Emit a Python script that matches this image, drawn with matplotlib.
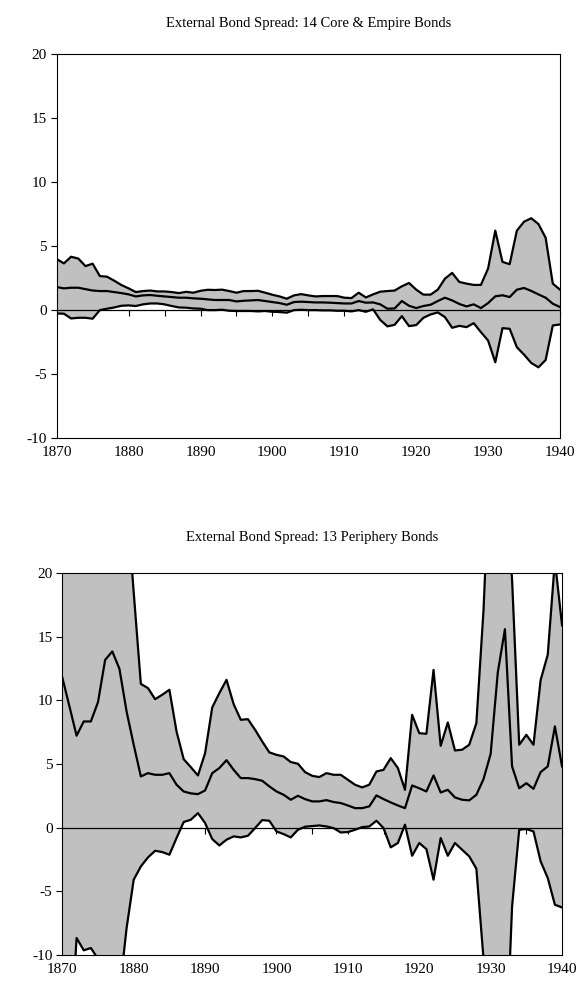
import matplotlib
matplotlib.use("Agg")
import matplotlib.pyplot as plt

years = list(range(1870, 1941))

# 14 core & empire bonds: band top, middle line, band bottom
core_hi = [3.96, 3.62, 4.14, 4.0, 3.41, 3.6, 2.63, 2.58, 2.27, 1.93,
           1.67, 1.38, 1.46, 1.5, 1.43, 1.43, 1.38, 1.3, 1.4, 1.33,
           1.48, 1.56, 1.54, 1.57, 1.46, 1.33, 1.46, 1.46, 1.48, 1.33,
           1.17, 1.04, 0.86, 1.12, 1.22, 1.12, 1.04, 1.07, 1.07, 1.07,
           0.94, 0.91, 1.33, 0.96, 1.2, 1.41, 1.46, 1.5, 1.83, 2.09,
           1.57, 1.18, 1.18, 1.57, 2.43, 2.88, 2.17, 2.04, 1.94, 1.94,
           3.22, 6.18, 3.74, 3.56, 6.18, 6.88, 7.15, 6.7, 5.63, 2.04,
           1.57]
core_mid = [1.77, 1.67, 1.72, 1.72, 1.61, 1.5, 1.46, 1.46, 1.38, 1.3,
            1.2, 1.04, 1.12, 1.15, 1.09, 1.04, 0.99, 0.94, 0.94, 0.89,
            0.86, 0.81, 0.76, 0.76, 0.76, 0.65, 0.7, 0.73, 0.76, 0.68,
            0.6, 0.52, 0.39, 0.6, 0.63, 0.6, 0.57, 0.57, 0.55, 0.52,
            0.49, 0.49, 0.68, 0.55, 0.57, 0.42, 0.08, 0.1, 0.68, 0.31,
            0.13, 0.29, 0.39, 0.68, 0.94, 0.73, 0.45, 0.26, 0.42, 0.13,
            0.52, 1.05, 1.13, 0.99, 1.57, 1.7, 1.47, 1.2, 0.94, 0.47,
            0.21]
core_lo = [-0.29, -0.31, -0.68, -0.63, -0.63, -0.7, -0.03, 0.08, 0.18, 0.31,
           0.34, 0.29, 0.42, 0.49, 0.49, 0.42, 0.29, 0.18, 0.16, 0.1,
           0.08, -0.03, -0.03, 0.0, -0.08, -0.1, -0.1, -0.1, -0.13, -0.1,
           -0.16, -0.18, -0.23, -0.03, 0.0, -0.03, -0.03, -0.05, -0.05, -0.08,
           -0.08, -0.13, -0.03, -0.16, 0.03, -0.8, -1.3, -1.18, -0.5, -1.28,
           -1.2, -0.63, -0.37, -0.21, -0.58, -1.41, -1.26, -1.36, -1.05, -1.75,
           -2.41, -4.11, -1.44, -1.49, -2.93, -3.51, -4.16, -4.5, -3.93, -1.23,
           -1.15]

# 13 periphery bonds
peri_hi = [32, 30, 28, 30, 29, 31, 34, 35, 32, 26,
           18.5, 11.3, 10.97, 10.1, 10.45, 10.84, 7.57, 5.39, 4.76, 4.11,
           5.86, 9.45, 10.58, 11.62, 9.71, 8.48, 8.53, 7.7, 6.78, 5.92,
           5.73, 5.6, 5.16, 5.03, 4.37, 4.08, 3.98, 4.29, 4.16, 4.16,
           3.77, 3.38, 3.17, 3.38, 4.42, 4.55, 5.47, 4.7, 2.98, 8.87,
           7.43, 7.38, 12.4, 6.44, 8.27, 6.07, 6.13, 6.52, 8.22, 17.1,
           30, 35, 28, 19.5, 6.52, 7.3, 6.52, 11.6, 13.6, 21,
           15.9]
peri_mid = [11.8, 9.53, 7.23, 8.35, 8.35, 9.87, 13.19, 13.85, 12.49, 9.14,
            6.52, 4.03, 4.29, 4.16, 4.16, 4.29, 3.38, 2.85, 2.7, 2.64,
            2.93, 4.29, 4.69, 5.31, 4.55, 3.9, 3.9, 3.82, 3.69, 3.25,
            2.85, 2.59, 2.2, 2.51, 2.25, 2.07, 2.07, 2.17, 2.02, 1.94,
            1.75, 1.54, 1.54, 1.68, 2.54, 2.25, 1.99, 1.75, 1.54, 3.32,
            3.1, 2.85, 4.11, 2.77, 2.98, 2.38, 2.2, 2.15, 2.59, 3.82,
            5.8, 12.2, 15.6, 4.82, 3.1, 3.5, 3.06, 4.37, 4.82, 7.96,
            4.82]
peri_lo = [-16, -18, -8.66, -9.63, -9.45, -10.3, -14, -15, -13, -7.9,
           -4.08, -3.04, -2.33, -1.81, -1.91, -2.12, -0.81, 0.45, 0.63, 1.15,
           0.37, -0.89, -1.39, -0.94, -0.68, -0.76, -0.63, -0.03, 0.6, 0.55,
           -0.29, -0.5, -0.76, -0.16, 0.08, 0.13, 0.18, 0.1, -0.03, -0.37,
           -0.34, -0.16, 0.05, 0.1, 0.55, -0.03, -1.54, -1.2, 0.24, -2.2,
           -1.2, -1.68, -4.08, -0.81, -2.2, -1.2, -1.73, -2.25, -3.22, -10.3,
           -20, -25, -20, -6.2, -0.16, -0.1, -0.29, -2.64, -3.95, -6.05,
           -6.26]

plt.rcParams['font.family'] = ['Liberation Serif', 'DejaVu Serif']
plt.rcParams['axes.unicode_minus'] = False


def draw_panel(ax, hi, mid, lo, title, pad):
    ax.fill_between(years, lo, hi, color='#c0c0c0', linewidth=0, zorder=1)
    ax.axhline(0, color='black', linewidth=0.9, zorder=2)
    for s in (hi, mid, lo):
        ax.plot(years, s, color='black', linewidth=1.6, zorder=3)

    ax.set_xlim(1870, 1940)
    ax.set_ylim(-10, 20)
    ax.set_yticks(range(-10, 21, 5))
    ax.set_xticks(range(1870, 1941, 10))
    ax.tick_params(axis='x', length=0, pad=6, labelsize=11)
    ax.tick_params(axis='y', direction='out', length=4, width=0.8, pad=3, labelsize=11)
    for sp in ax.spines.values():
        sp.set_linewidth(0.8)

    # small ticks hang from the zero line, every 5 years
    zero_axis = ax.secondary_xaxis(0, transform=ax.transData)
    zero_axis.set_xticks(range(1870, 1941, 5))
    zero_axis.set_xticklabels([])
    zero_axis.tick_params(direction='out', length=4, width=0.8)
    zero_axis.spines['bottom'].set_visible(False)

    ax.set_title(title, fontsize=10.5, pad=pad)


fig = plt.figure(figsize=(5.84, 9.97), dpi=100)
ax1 = fig.add_axes([0.0971, 0.561, 0.8618, 0.385])
ax2 = fig.add_axes([0.1067, 0.0421, 0.8557, 0.383])

draw_panel(ax1, core_hi, core_mid, core_lo,
           "External Bond Spread: 14 Core & Empire Bonds", 19.5)
draw_panel(ax2, peri_hi, peri_mid, peri_lo,
           "External Bond Spread: 13 Periphery Bonds", 23)

fig.savefig("out.png", dpi=100)
